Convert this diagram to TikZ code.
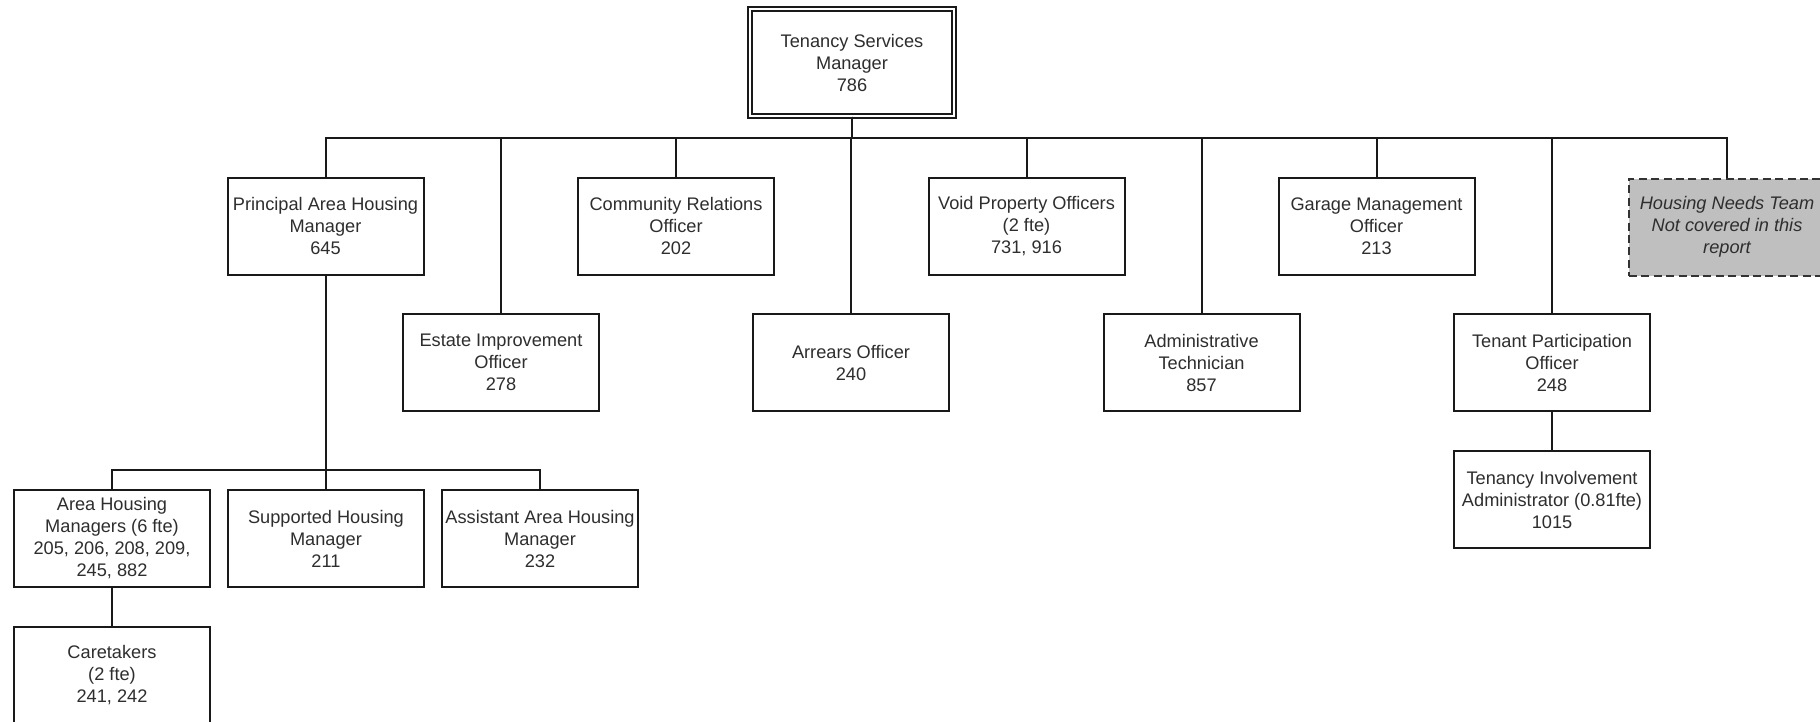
\documentclass[tikz,border=0pt]{standalone}
\usepackage{fontspec}
\setmainfont{Liberation Sans}
\begin{document}
\begin{tikzpicture}[x=0.5pt,y=-0.5pt,
  every node/.style={font=\fontsize{9.1pt}{11pt}\selectfont, text=black!82, align=center, inner sep=0pt},
  post/.style={draw=black!90, line width=1pt, minimum width=98pt, minimum height=48.5pt},
  headpost/.style={draw=black!90, double=white, line width=0.9pt, double distance=0.9pt, minimum width=102pt, minimum height=53.5pt},
  outside/.style={post, draw=black!80, fill=black!25, dash pattern=on 4pt off 2.2pt, font=\fontsize{9.1pt}{11pt}\selectfont\itshape},
  link/.style={draw=black!90, line width=1pt}]
\useasboundingbox (0,0) rectangle (1820,722);
\fill[white] (0,0) rectangle (1820,722);

% head of service
\node[headpost] (tsm) at (852,62.5) {Tenancy Services\\Manager\\786};

% first row of posts
\node[post] (pahm) at (325.5,226) {Principal Area Housing\\Manager\\645};
\node[post] (cro)  at (676,226)   {Community Relations\\Officer\\202};
\node[post] (vpo)  at (1026.5,226){Void Property Officers\\(2 fte)\\731, 916};
\node[post] (gmo)  at (1376.5,226){Garage Management\\Officer\\213};
\node[outside] (hnt) at (1727,227) {Housing Needs Team\\Not covered in this\\report};

% second row of posts
\node[post] (eio) at (501,362.5)   {Estate Improvement\\Officer\\278};
\node[post] (aro) at (851,362.5)   {Arrears Officer\\240};
\node[post] (adt) at (1201.5,362.5){Administrative\\Technician\\857};
\node[post] (tpo) at (1552,362.5)  {Tenant Participation\\Officer\\248};

% under the tenant participation officer
\node[post] (tia) at (1552,499.5) {Tenancy Involvement\\Administrator (0.81fte)\\1015};

% area housing team
\node[post] (ahm) at (112,538.5) {Area Housing\\Managers (6 fte)\\205, 206, 208, 209,\\245, 882};
\node[post] (shm) at (326,538.5) {Supported Housing\\Manager\\211};
\node[post] (aahm) at (540,538.5) {Assistant Area Housing\\Manager\\232};
\node[post] (care) at (112,675.5) {Caretakers\\(2 fte)\\241, 242};

% reporting lines
\coordinate (bus) at (852,138);
\coordinate (bus2) at (326,470);
\foreach \c in {pahm,eio,cro,aro,vpo,adt,gmo,tpo,hnt}
  \draw[link] (tsm.south) -- (tsm.south |- bus) -| (\c.north);
\foreach \c in {ahm,shm,aahm}
  \draw[link] (pahm.south) -- (pahm.south |- bus2) -| (\c.north);
\draw[link] (ahm.south) -- (care.north);
\draw[link] (tpo.south) -- (tia.north);
\end{tikzpicture}
\end{document}
